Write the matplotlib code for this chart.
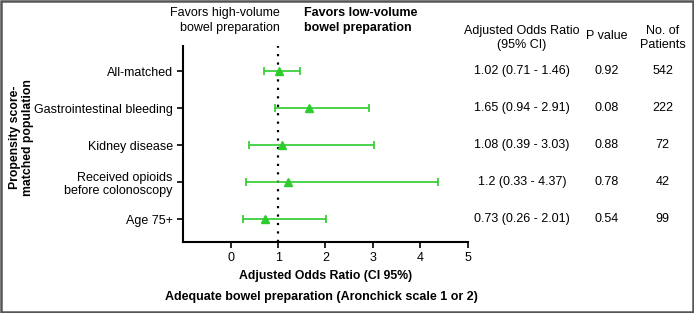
import matplotlib
matplotlib.use("Agg")
import matplotlib.pyplot as plt
import matplotlib.transforms as mtransforms
from matplotlib.patches import Rectangle

plt.rcParams['font.family'] = ['Liberation Sans', 'DejaVu Sans']

categories = ["All-matched", "Gastrointestinal bleeding", "Kidney disease",
              "Received opioids\nbefore colonoscopy", "Age 75+"]
odds = [1.02, 1.65, 1.08, 1.2, 0.73]
ci_low = [0.71, 0.94, 0.39, 0.33, 0.26]
ci_high = [1.46, 2.91, 3.03, 4.37, 2.01]
or_text = ["1.02 (0.71 - 1.46)", "1.65 (0.94 - 2.91)", "1.08 (0.39 - 3.03)",
           "1.2 (0.33 - 4.37)", "0.73 (0.26 - 2.01)"]
p_values = ["0.92", "0.08", "0.88", "0.78", "0.54"]
patients = ["542", "222", "72", "42", "99"]
xticks = [0, 1, 2, 3, 4, 5]

FS = 9
green = "#2ecc2e"
fig = plt.figure(figsize=(6.94, 3.13), dpi=100)
ax = fig.add_axes([0.264, 0.227, 0.410, 0.626])

y = list(range(len(categories)))
xerr = [[o - l for o, l in zip(odds, ci_low)], [h - o for o, h in zip(odds, ci_high)]]
ax.errorbar(odds, y, xerr=xerr, fmt='^', color=green, ecolor=green, elinewidth=1.2,
            capsize=3, capthick=1.2, markersize=6, zorder=3)
ax.axvline(1, color='black', linestyle=(0, (1, 2.8)), linewidth=1.6, zorder=2)

ax.set_xlim(-1, 5)
ax.set_ylim(4.62, -0.68)
ax.set_xticks(xticks)
ax.set_yticks(y)
ax.set_yticklabels(categories, fontsize=FS, linespacing=1.2)
ax.tick_params(axis='x', labelsize=FS, length=4, width=1.2, direction='out')
ax.tick_params(axis='y', length=4, width=1.2, direction='out')
for s in ['top', 'right']:
    ax.spines[s].set_visible(False)
ax.spines['left'].set_linewidth(1.5)
ax.spines['bottom'].set_linewidth(1.5)
ax.set_xlabel("Adjusted Odds Ratio (CI 95%)", fontsize=8.8, fontweight='bold', labelpad=4)

fig.text(0.403, 0.935, "Favors high-volume\nbowel preparation", ha='right', va='center',
         fontsize=FS, linespacing=1.35)
fig.text(0.438, 0.935, "Favors low-volume\nbowel preparation", ha='left', va='center',
         fontsize=FS, fontweight='bold', linespacing=1.35)

fig.text(0.463, 0.052, "Adequate bowel preparation (Aronchick scale 1 or 2)",
         ha='center', va='center', fontsize=FS, fontweight='bold')
fig.text(0.031, 0.562, "Propensity score-\nmatched population", rotation=90,
         ha='center', va='center', fontsize=8.8, fontweight='bold', linespacing=1.1)

# table columns
col_or, col_p, col_n = 0.752, 0.874, 0.955
fig.text(col_or, 0.879, "Adjusted Odds Ratio\n(95% CI)", ha='center', va='center', fontsize=FS, linespacing=1.25)
fig.text(col_p, 0.885, "P value", ha='center', va='center', fontsize=FS)
fig.text(col_n, 0.879, "No. of\nPatients", ha='center', va='center', fontsize=FS, linespacing=1.25)
blend = mtransforms.blended_transform_factory(fig.transFigure, ax.transData)
for i in range(len(categories)):
    ax.text(col_or, i, or_text[i], transform=blend, ha='center', va='center', fontsize=FS, clip_on=False)
    ax.text(col_p, i, p_values[i], transform=blend, ha='center', va='center', fontsize=FS, clip_on=False)
    ax.text(col_n, i, patients[i], transform=blend, ha='center', va='center', fontsize=FS, clip_on=False)

fig.patches.append(Rectangle((0.002, 0.003), 0.996, 0.994, transform=fig.transFigure,
                             fill=False, edgecolor='#555555', linewidth=1.8))
fig.savefig("out.png", dpi=100)
